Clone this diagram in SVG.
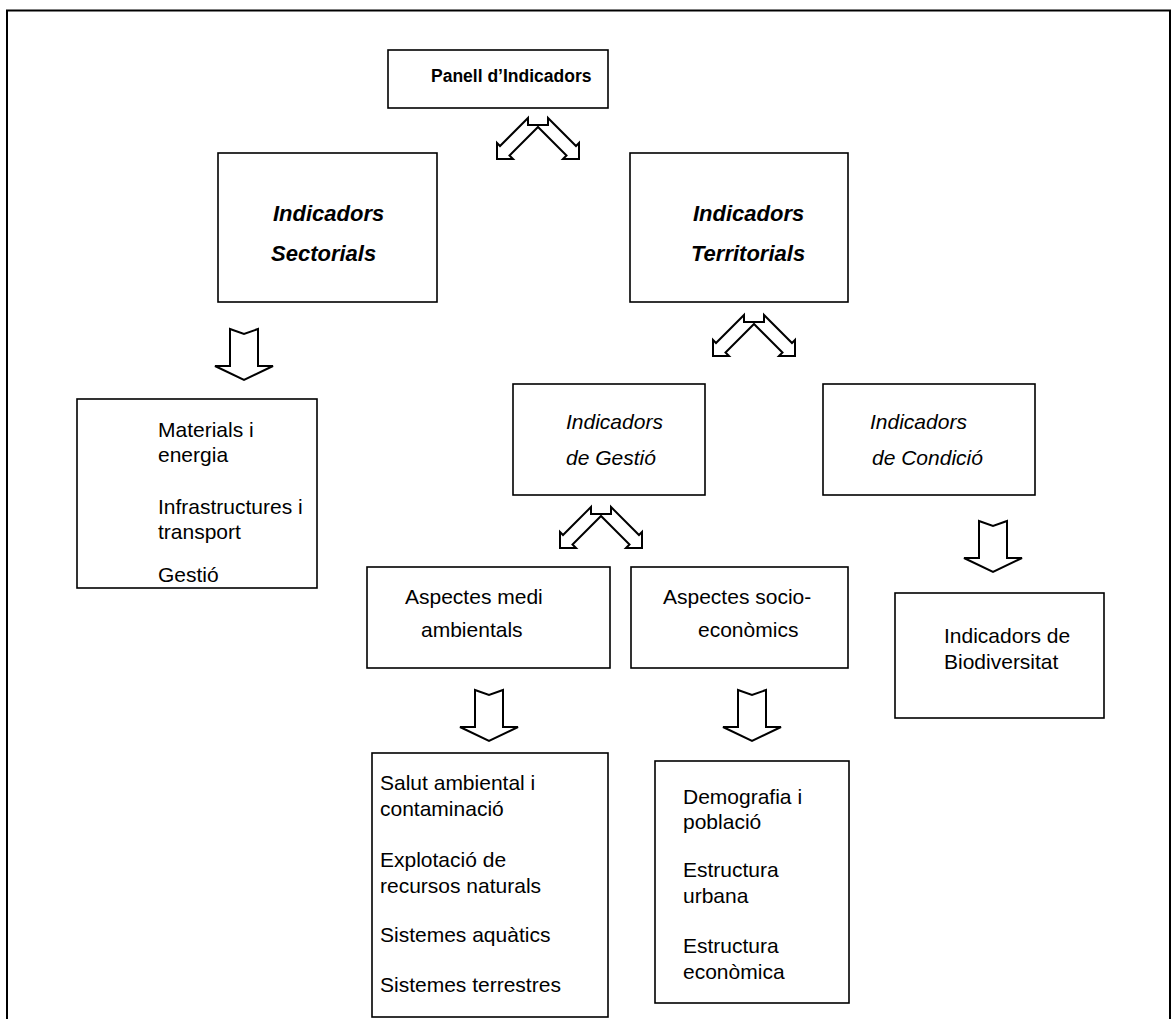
<svg xmlns="http://www.w3.org/2000/svg" width="1174" height="1019" viewBox="0 0 1174 1019">
  <style>
    .frame{fill:none;stroke:#000;stroke-width:2}
    .box{fill:#fff;stroke:#000;stroke-width:1.6}
    .arr{fill:#fff;stroke:#000;stroke-width:2;stroke-linejoin:miter}
    text{font-family:"Liberation Sans",Arial,sans-serif;fill:#000}
    .t{font-size:21px}
    .h{font-size:17.5px;font-weight:bold}
    .bi{font-size:22px;font-weight:bold;font-style:italic}
    .i{font-size:21px;font-style:italic}
  </style>
  <defs>
    <!-- two hollow block arrows splitting down-left and down-right -->
    <path id="fork" class="arr" d="M-10,0 L-10,7 L10,7 L10,0 L38,28 L41,25 L41,41 L25,41 L28.5,37.5 L0,9 L-28.5,37.5 L-25,41 L-41,41 L-41,25 L-38,28 Z"/>
    <!-- hollow notched block arrow pointing down -->
    <path id="down" class="arr" d="M-14,0 L0,5 L14,0 L14,37 L29,37 L0,51 L-29,37 L-14,37 Z"/>
  </defs>

  <rect width="1174" height="1019" fill="#fff"/>
  <path class="frame" d="M7,1030 V10.5 H1170 V1030"/>

  <g id="connectors">
    <use href="#fork" x="538" y="118"/>
    <use href="#fork" x="754" y="315"/>
    <use href="#fork" x="601" y="507"/>
    <use href="#down" x="244" y="329"/>
    <use href="#down" x="993" y="521"/>
    <use href="#down" x="489" y="690"/>
    <use href="#down" x="752" y="690"/>
  </g>

  <g id="panell">
    <rect class="box" x="388" y="50" width="220" height="58"/>
    <text class="h" x="431" y="82">Panell d’Indicadors</text>
  </g>

  <g id="sectorials">
    <rect class="box" x="218" y="153" width="219" height="149"/>
    <text class="bi" x="273" y="221">Indicadors</text>
    <text class="bi" x="271" y="261">Sectorials</text>
  </g>

  <g id="territorials">
    <rect class="box" x="630" y="153" width="218" height="149"/>
    <text class="bi" x="693" y="221">Indicadors</text>
    <text class="bi" x="691" y="261">Territorials</text>
  </g>

  <g id="sectorials-list">
    <rect class="box" x="77" y="399" width="240" height="189"/>
    <text class="t" x="158" y="437">Materials i</text>
    <text class="t" x="158" y="462">energia</text>
    <text class="t" x="158" y="514">Infrastructures i</text>
    <text class="t" x="158" y="539">transport</text>
    <text class="t" x="158" y="582">Gestió</text>
  </g>

  <g id="gestio">
    <rect class="box" x="513" y="384" width="192" height="111"/>
    <text class="i" x="566" y="429">Indicadors</text>
    <text class="i" x="566" y="465">de Gestió</text>
  </g>

  <g id="condicio">
    <rect class="box" x="823" y="384" width="212" height="111"/>
    <text class="i" x="870" y="429">Indicadors</text>
    <text class="i" x="872" y="465">de Condició</text>
  </g>

  <g id="medi-ambientals">
    <rect class="box" x="367" y="567" width="243" height="101"/>
    <text class="t" x="405" y="604">Aspectes medi</text>
    <text class="t" x="421" y="637">ambientals</text>
  </g>

  <g id="socio-economics">
    <rect class="box" x="631" y="567" width="217" height="101"/>
    <text class="t" x="663" y="604">Aspectes socio-</text>
    <text class="t" x="698" y="637">econòmics</text>
  </g>

  <g id="biodiversitat">
    <rect class="box" x="895" y="593" width="209" height="125"/>
    <text class="t" x="944" y="643">Indicadors de</text>
    <text class="t" x="944" y="669">Biodiversitat</text>
  </g>

  <g id="medi-list">
    <rect class="box" x="372" y="753" width="236" height="264"/>
    <text class="t" x="380" y="790">Salut ambiental i</text>
    <text class="t" x="380" y="816">contaminació</text>
    <text class="t" x="380" y="867">Explotació de</text>
    <text class="t" x="380" y="893">recursos naturals</text>
    <text class="t" x="380" y="942">Sistemes aquàtics</text>
    <text class="t" x="380" y="992">Sistemes terrestres</text>
  </g>

  <g id="socio-list">
    <rect class="box" x="655" y="761" width="194" height="242"/>
    <text class="t" x="683" y="804">Demografia i</text>
    <text class="t" x="683" y="829">població</text>
    <text class="t" x="683" y="877">Estructura</text>
    <text class="t" x="683" y="903">urbana</text>
    <text class="t" x="683" y="953">Estructura</text>
    <text class="t" x="683" y="979">econòmica</text>
  </g>
</svg>
